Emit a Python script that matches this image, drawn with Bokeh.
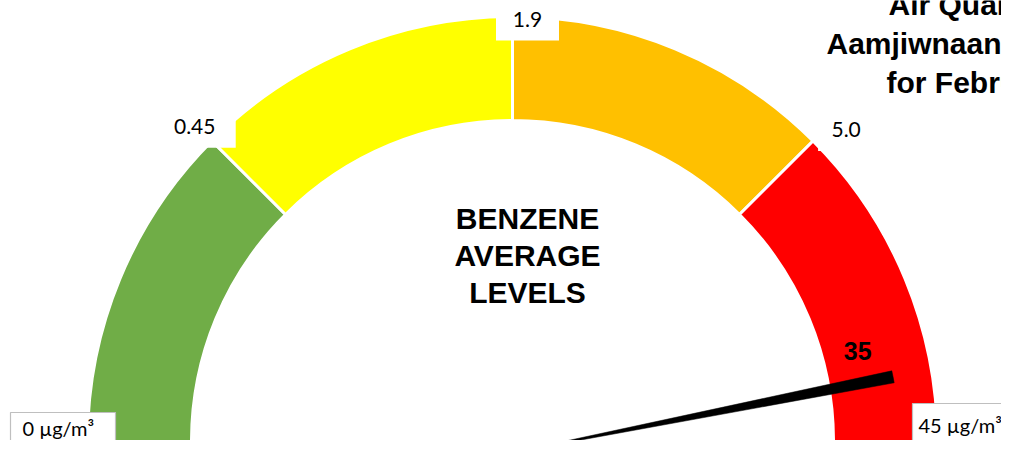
import numpy as np
from bokeh.plotting import figure
from bokeh.models import Range1d, ColumnDataSource
from bokeh.core.properties import value as pval
from bokeh.embed import file_html
from bokeh.resources import INLINE

# ---------------- data ----------------
thresholds = [0, 0.45, 1.9, 5.0, 45]
segment_colors = ["#70AD47", "#FFFF00", "#FFC000", "#FF0000"]
boundary_labels = ["0.45", "1.9", "5.0"]
end_labels = ["0 µg/m³", "45 µg/m³"]
reading = 35
reading_label = "35"
center_lines = ["BENZENE", "AVERAGE", "LEVELS"]
title_lines = ["Air Quality in", "Aamjiwnaang", "for February"]

# ---------------- layout (picture pixels) ----------------
W, H = 1001, 440
CX, CY = 512, 441          # gauge centre in the picture
R_IN, R_OUT = 321, 425
NEEDLE_DY = -11            # pivot of the needle pie relative to gauge centre
NEEDLE_R = 388
NEEDLE_HALF = np.radians(0.9)

p = figure(width=W, height=H, output_backend="svg", toolbar_location=None,
           x_range=Range1d(-CX, W - CX),
           y_range=Range1d(CY - H, CY),
           min_border=0)
p.axis.visible = False
p.grid.visible = False
p.outline_line_color = None
p.background_fill_color = "white"
p.border_fill_color = "white"

def px(x):  # picture x -> data x
    return x - CX

def py(y):  # picture y -> data y
    return CY - y

# ---------------- gauge segments ----------------
n = len(thresholds) - 1
step = np.pi / n
seg = ColumnDataSource(dict(
    start=[np.pi - (i + 1) * step for i in range(n)],
    end=[np.pi - i * step for i in range(n)],
    color=segment_colors,
))
p.annular_wedge(x=0, y=0, inner_radius=R_IN, outer_radius=R_OUT,
                start_angle="start", end_angle="end", fill_color="color",
                line_color="white", line_width=3, source=seg)

# ---------------- boundary labels ----------------
b_angles = [np.pi - (i + 1) * step for i in range(n - 1)]
LABEL_R = [448, 422, 452]
LABEL_DX = [-1, 15, 14]
LABEL_DY = [-2, 0, -8]
BOX_W = [82, 63, 56]
bx = [r * np.cos(a) + dx for r, a, dx in zip(LABEL_R, b_angles, LABEL_DX)]
by = [r * np.sin(a) + dy for r, a, dy in zip(LABEL_R, b_angles, LABEL_DY)]
lab = ColumnDataSource(dict(x=bx, y=by, w=BOX_W, text=boundary_labels))
p.rect(x="x", y="y", width="w", height=42, fill_color="white",
       line_color=None, source=lab)
p.text(x="x", y="y", text="text", source=lab, text_font=pval("Lato"),
       text_font_size="21px", text_align="center", text_baseline="middle",
       text_color="#000000")

# ---------------- end labels (boxed) ----------------
end_src = ColumnDataSource(dict(
    bx=[px(62.5), px(969)], by=[py(432.5), py(423.5)], bw=[105, 114],
    tx=[px(22), px(918)], ty=[py(439), py(436)], text=end_labels))
p.rect(x="bx", y="by", width="bw", height=41, fill_color="white",
       line_color="#BFBFBF", line_width=1.2, source=end_src)
p.text(x="tx", y="ty", text="text", source=end_src, text_font=pval("Lato"),
       text_font_size="20px", text_align="left", text_baseline="bottom",
       text_color="#000000")

# ---------------- needle ----------------
frac = np.interp(reading, thresholds, np.linspace(0, 1, len(thresholds)))
ang = np.pi * (1 - frac)
p.wedge(x=0, y=NEEDLE_DY, radius=NEEDLE_R, start_angle=ang - NEEDLE_HALF,
        end_angle=ang + NEEDLE_HALF, fill_color="black", line_color="black",
        line_width=0.5)

# reading label near the needle tip
p.text(x=[352 * np.cos(ang)], y=[352 * np.sin(ang) + 22], text=[reading_label],
       text_font=pval("Liberation Sans"), text_font_style="bold",
       text_font_size="25px", text_align="center", text_baseline="middle",
       text_color="#000000")

# ---------------- centre text ----------------
p.text(x=[px(527)] * 3, y=[py(218), py(255), py(292)], text=center_lines,
       text_font=pval("Liberation Sans"), text_font_style="bold",
       text_font_size="30px", text_align="center", text_baseline="middle",
       text_color="#000000")

# ---------------- title (cut by the chart edge) ----------------
p.text(x=[px(888), px(826), px(886)], y=[py(4), py(43), py(82)], text=title_lines,
       text_font=pval("Liberation Sans"), text_font_style="bold",
       text_font_size="30px", text_align="left", text_baseline="alphabetic",
       text_color="#000000")

open("out.html", "w").write(file_html(p, INLINE))
